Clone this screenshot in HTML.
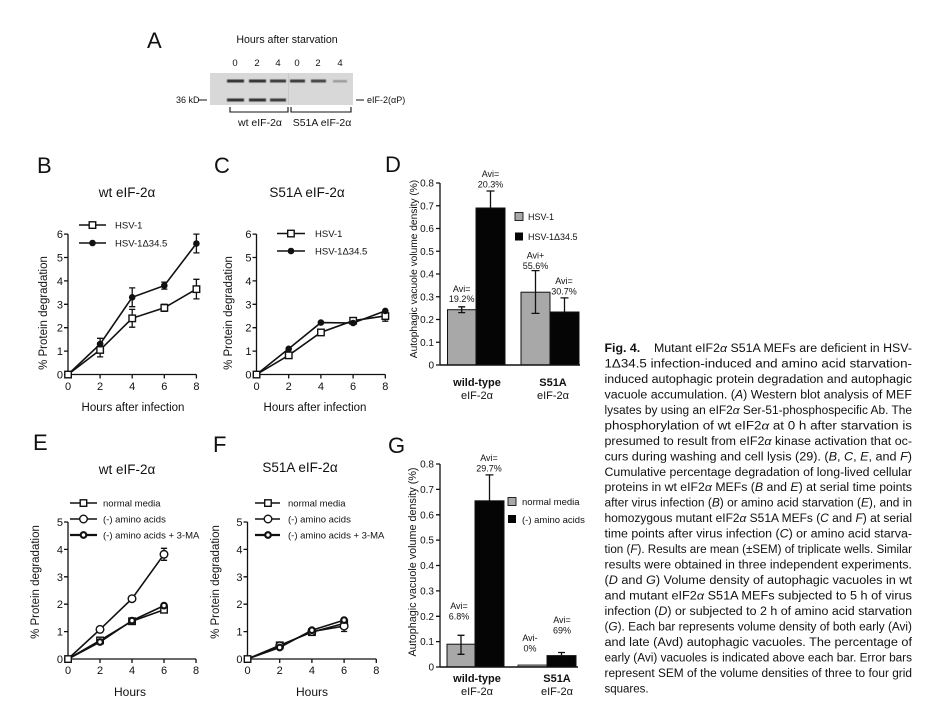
<!DOCTYPE html>
<html><head><meta charset="utf-8">
<style>
html,body{margin:0;padding:0;background:#fff;}
svg{display:block;}
text{font-family:"Liberation Sans",Arial,sans-serif;fill:#111;}
.ax{fill:none;stroke:#111;stroke-width:1.3;}
.ln{fill:none;stroke:#111;stroke-width:1.6;}
.eb{fill:none;stroke:#111;stroke-width:1.3;}
.sq{fill:#fff;stroke:#111;stroke-width:1.4;}
.fc{fill:#111;}
.oc{fill:#fff;stroke:#111;stroke-width:1.4;}
.mc{fill:#fff;stroke:#111;stroke-width:2.2;}
.tk{font-size:11px;}
.tkd{font-size:10px;}
.lg{font-size:9.5px;}
.an{font-size:9px;fill:#222;}
.ttl{font-size:13.5px;}
.let{font-size:22px;}
.cap{font-size:11.5px;fill:#1a1a1a;}
</style></head><body>
<svg width="934" height="721" viewBox="0 0 934 721" xmlns="http://www.w3.org/2000/svg">
<defs>
<filter id="bl" x="-20%" y="-100%" width="140%" height="300%"><feGaussianBlur stdDeviation="0.6"/></filter>
</defs>

<!-- ================= PANEL A ================= -->
<text class="let" x="147" y="48">A</text>
<text x="287" y="43" text-anchor="middle" style="font-size:10.6px">Hours after starvation</text>
<g style="font-size:9.5px" text-anchor="middle">
<text x="235" y="66">0</text><text x="257" y="66">2</text><text x="278" y="66">4</text>
<text x="297" y="66">0</text><text x="318" y="66">2</text><text x="340" y="66">4</text>
</g>
<rect x="210" y="73" width="143" height="32" fill="#d8d8d8"/>
<line x1="288.5" y1="73" x2="288.5" y2="105" stroke="#c4c4c4" stroke-width="0.8"/>
<g filter="url(#bl)">
<rect x="227" y="79.5" width="17" height="3" fill="#333"/>
<rect x="249" y="79.5" width="17" height="3" fill="#333"/>
<rect x="270" y="79.5" width="16" height="3" fill="#3a3a3a"/>
<rect x="290" y="79.5" width="15" height="3" fill="#3a3a3a"/>
<rect x="311" y="79.5" width="15" height="3" fill="#444"/>
<rect x="333" y="80" width="14" height="2.4" fill="#9a9a9a"/>
<rect x="227" y="98.5" width="17" height="3" fill="#333"/>
<rect x="249" y="98.5" width="17" height="3" fill="#333"/>
<rect x="270" y="98.5" width="16" height="3" fill="#3a3a3a"/>
</g>
<text x="176" y="103" style="font-size:9px">36 kD</text>
<line x1="198" y1="100" x2="207" y2="100" stroke="#111" stroke-width="1"/>
<line x1="356" y1="100" x2="364" y2="100" stroke="#111" stroke-width="1"/>
<text x="367" y="103" style="font-size:9px">eIF-2(αP)</text>
<path class="ax" style="stroke-width:1.1" d="M230 107V112H288V107M291 107V112H351V107"/>
<text x="260" y="126" text-anchor="middle" style="font-size:10.5px">wt eIF-2α</text>
<text x="322" y="126" text-anchor="middle" style="font-size:10.5px">S51A eIF-2α</text>

<!-- ================= PANEL B ================= -->
<text class="let" x="37" y="173">B</text>
<text class="ttl" x="127" y="197" text-anchor="middle">wt eIF-2α</text>
<path class="ax" d="M68 234.1V374.5H196.4"/>
<path class="ax" d="M64 374.5H68M64 351.1H68M64 327.7H68M64 304.3H68M64 280.9H68M64 257.5H68M64 234.1H68M68 374.5V378.5M100.1 374.5V378.5M132.2 374.5V378.5M164.3 374.5V378.5M196.4 374.5V378.5"/>
<g class="tk" text-anchor="end">
<text x="63" y="378.5">0</text><text x="63" y="355.1">1</text><text x="63" y="331.7">2</text><text x="63" y="308.3">3</text><text x="63" y="284.9">4</text><text x="63" y="261.5">5</text><text x="63" y="238.1">6</text>
</g>
<g class="tk" text-anchor="middle">
<text x="68" y="390">0</text><text x="100.1" y="390">2</text><text x="132.2" y="390">4</text><text x="164.3" y="390">6</text><text x="196.4" y="390">8</text>
</g>
<text x="133" y="411" text-anchor="middle" style="font-size:11.5px">Hours after infection</text>
<text transform="translate(47,313) rotate(-90)" text-anchor="middle" style="font-size:11.5px">% Protein degradation</text>
<polyline class="ln" points="68,374.5 100.1,349.9 132.2,318.3 164.3,307.8 196.4,289.1"/>
<polyline class="ln" points="68,374.5 100.1,344.1 132.2,297.3 164.3,285.6 196.4,243.5"/>
<path class="eb" d="M100.1 342.9V356.9M97 342.9H103.2M97 356.9H103.2M132.2 309.4V327.2M129.1 309.4H135.3M129.1 327.2H135.3M164.3 304.3V311.3M161.2 304.3H167.4M161.2 311.3H167.4M196.4 279.3V298.9M193.3 279.3H199.5M193.3 298.9H199.5"/>
<path class="eb" d="M100.1 338.3V349.9M97 338.3H103.2M132.2 287.9V306.7M129.1 287.9H135.3M129.1 306.7H135.3M164.3 282.1V289.1M161.2 282.1H167.4M161.2 289.1H167.4M196.4 234.1V252.9M193.3 234.1H199.5M193.3 252.9H199.5"/>
<g>
<rect class="sq" x="64.8" y="371.3" width="6.5" height="6.5"/>
<rect class="sq" x="96.9" y="346.7" width="6.5" height="6.5"/>
<rect class="sq" x="129" y="315.1" width="6.5" height="6.5"/>
<rect class="sq" x="161.1" y="304.6" width="6.5" height="6.5"/>
<rect class="sq" x="193.2" y="285.9" width="6.5" height="6.5"/>
<circle class="fc" cx="100.1" cy="344.1" r="3.3"/>
<circle class="fc" cx="132.2" cy="297.3" r="3.3"/>
<circle class="fc" cx="164.3" cy="285.6" r="3.3"/>
<circle class="fc" cx="196.4" cy="243.5" r="3.3"/>
</g>
<path class="ln" d="M79 225H106M79 243H106"/>
<rect class="sq" x="89.2" y="221.8" width="6.5" height="6.5"/>
<circle class="fc" cx="92.5" cy="243" r="3.3"/>
<text class="lg" x="115" y="228.5">HSV-1</text>
<text class="lg" x="115" y="246.5">HSV-1Δ34.5</text>

<!-- ================= PANEL C ================= -->
<text class="let" x="214" y="173">C</text>
<text class="ttl" x="307" y="197" text-anchor="middle">S51A eIF-2α</text>
<path class="ax" d="M256.5 234.1V374.5H385.3"/>
<path class="ax" d="M252.5 374.5H256.5M252.5 351.1H256.5M252.5 327.7H256.5M252.5 304.3H256.5M252.5 280.9H256.5M252.5 257.5H256.5M252.5 234.1H256.5M256.5 374.5V378.5M288.7 374.5V378.5M320.9 374.5V378.5M353.1 374.5V378.5M385.3 374.5V378.5"/>
<g class="tk" text-anchor="end">
<text x="251.5" y="378.5">0</text><text x="251.5" y="355.1">1</text><text x="251.5" y="331.7">2</text><text x="251.5" y="308.3">3</text><text x="251.5" y="284.9">4</text><text x="251.5" y="261.5">5</text><text x="251.5" y="238.1">6</text>
</g>
<g class="tk" text-anchor="middle">
<text x="256.5" y="390">0</text><text x="288.7" y="390">2</text><text x="320.9" y="390">4</text><text x="353.1" y="390">6</text><text x="385.3" y="390">8</text>
</g>
<text x="315" y="411" text-anchor="middle" style="font-size:11.5px">Hours after infection</text>
<text transform="translate(232,313) rotate(-90)" text-anchor="middle" style="font-size:11.5px">% Protein degradation</text>
<polyline class="ln" points="256.5,374.5 288.7,355.3 320.9,332.4 353.1,320.7 385.3,316"/>
<polyline class="ln" points="256.5,374.5 288.7,348.8 320.9,322.6 353.1,323 385.3,310.9"/>
<path class="eb" d="M385.3 311.3V321.2M382.2 321.2H388.4"/>
<rect class="sq" x="253.3" y="371.3" width="6.5" height="6.5"/>
<rect class="sq" x="285.5" y="352.1" width="6.5" height="6.5"/>
<rect class="sq" x="317.7" y="329.2" width="6.5" height="6.5"/>
<rect class="sq" x="349.9" y="317.5" width="6.5" height="6.5"/>
<rect class="sq" x="382.1" y="312.8" width="6.5" height="6.5"/>
<circle class="fc" cx="288.7" cy="348.8" r="3.3"/>
<circle class="fc" cx="320.9" cy="322.6" r="3.3"/>
<circle class="fc" cx="353.1" cy="323" r="3.3"/>
<circle class="fc" cx="385.3" cy="310.9" r="3.3"/>
<path class="ln" d="M277 233.5H305M277 251H305"/>
<rect class="sq" x="287.7" y="230.3" width="6.5" height="6.5"/>
<circle class="fc" cx="291" cy="251" r="3.3"/>
<text class="lg" x="315" y="237">HSV-1</text>
<text class="lg" x="315" y="254.5">HSV-1Δ34.5</text>

<!-- ================= PANEL D ================= -->
<text class="let" x="385" y="172">D</text>
<path class="ax" d="M440 183V365"/>
<path class="ax" d="M436 365H440M436 342.25H440M436 319.5H440M436 296.75H440M436 274H440M436 251.25H440M436 228.5H440M436 205.75H440M436 183H440"/>
<g class="tkd" text-anchor="end">
<text x="434" y="368.5">0</text><text x="434" y="345.75">0.1</text><text x="434" y="323">0.2</text><text x="434" y="300.25">0.3</text><text x="434" y="277.5">0.4</text><text x="434" y="254.75">0.5</text><text x="434" y="232">0.6</text><text x="434" y="209.25">0.7</text><text x="434" y="186.5">0.8</text>
</g>
<text transform="translate(417,269) rotate(-90)" text-anchor="middle" style="font-size:10.2px">Autophagic vacuole volume density (%)</text>
<rect x="447.5" y="309.7" width="28.5" height="55.3" fill="#a8a8a8" stroke="#111" stroke-width="1"/>
<rect x="476" y="208" width="29" height="157" fill="#050505" stroke="#111" stroke-width="1"/>
<rect x="521" y="292.2" width="29" height="72.8" fill="#a8a8a8" stroke="#111" stroke-width="1"/>
<rect x="550" y="312" width="29" height="53" fill="#050505" stroke="#111" stroke-width="1"/>
<path class="ax" style="stroke-width:1.6" d="M440 365H580"/>
<path class="eb" d="M461.7 306.8V312.6M458.2 306.8H465.2M458.2 312.6H465.2"/>
<path class="eb" d="M490.5 191V208M486.5 191H494.5"/>
<path class="eb" d="M535.5 270.6V313.4M531.5 270.6H539.5M531.5 313.4H539.5"/>
<path class="eb" d="M564.5 297.9V312M560.5 297.9H568.5"/>
<g class="an" text-anchor="middle">
<text x="490.5" y="177">Avi=</text><text x="490.5" y="187.5">20.3%</text>
<text x="461.7" y="292">Avi=</text><text x="461.7" y="302">19.2%</text>
<text x="535.5" y="258.5">Avi+</text><text x="535.5" y="269">55.6%</text>
<text x="564" y="284">Avi=</text><text x="564" y="294.5">30.7%</text>
</g>
<rect x="515" y="212.5" width="8" height="8" fill="#a8a8a8" stroke="#111" stroke-width="0.9"/>
<rect x="515" y="232.5" width="8" height="8" fill="#050505"/>
<text class="lg" x="528" y="220" style="font-size:9px">HSV-1</text>
<text class="lg" x="528" y="240" style="font-size:9px">HSV-1Δ34.5</text>
<text x="477" y="386" text-anchor="middle" style="font-size:11px;font-weight:bold">wild-type</text>
<text x="477" y="399" text-anchor="middle" style="font-size:11px">eIF-2α</text>
<text x="553" y="386" text-anchor="middle" style="font-size:11px;font-weight:bold">S51A</text>
<text x="553" y="399" text-anchor="middle" style="font-size:11px">eIF-2α</text>

<!-- ================= PANEL E ================= -->
<text class="let" x="33" y="450">E</text>
<text class="ttl" x="127" y="474" text-anchor="middle">wt eIF-2α</text>
<path class="ax" d="M68 522V659H196"/>
<path class="ax" d="M64 659H68M64 631.6H68M64 604.2H68M64 576.8H68M64 549.4H68M64 522H68M68 659V663M100 659V663M132 659V663M164 659V663M196 659V663"/>
<g class="tk" text-anchor="end">
<text x="63" y="663">0</text><text x="63" y="635.6">1</text><text x="63" y="608.2">2</text><text x="63" y="580.8">3</text><text x="63" y="553.4">4</text><text x="63" y="526">5</text>
</g>
<g class="tk" text-anchor="middle">
<text x="68" y="674">0</text><text x="100" y="674">2</text><text x="132" y="674">4</text><text x="164" y="674">6</text><text x="196" y="674">8</text>
</g>
<text x="130" y="696" text-anchor="middle" style="font-size:12px">Hours</text>
<text transform="translate(39,582) rotate(-90)" text-anchor="middle" style="font-size:11.5px">% Protein degradation</text>
<polyline class="ln" points="68,659 100,640.4 132,621.2 164,609.7"/>
<polyline class="ln" points="68,659 100,629.4 132,598.7 164,554.3"/>
<polyline class="ln" points="68,659 100,642 132,620.6 164,605.6"/>
<path class="eb" d="M164 548.3V560.3M160.9 548.3H167.1M160.9 560.3H167.1"/>
<rect class="sq" x="64.8" y="655.8" width="6.5" height="6.5"/>
<rect class="sq" x="96.8" y="637.2" width="6.5" height="6.5"/>
<rect class="sq" x="128.8" y="618" width="6.5" height="6.5"/>
<rect class="sq" x="160.8" y="606.5" width="6.5" height="6.5"/>
<circle class="oc" cx="100" cy="629.4" r="3.8"/>
<circle class="oc" cx="132" cy="598.7" r="3.8"/>
<circle class="oc" cx="164" cy="554.3" r="3.8"/>
<circle class="mc" cx="100" cy="642" r="2.8"/>
<circle class="mc" cx="132" cy="620.6" r="2.8"/>
<circle class="mc" cx="164" cy="605.6" r="2.8"/>
<path class="ln" d="M70 503H97M70 519H97"/>
<path class="ln" style="stroke-width:2.2" d="M70 535H97"/>
<rect class="sq" x="80.2" y="499.8" width="6.5" height="6.5"/>
<circle class="oc" cx="83.5" cy="519" r="3.8"/>
<circle class="mc" cx="83.5" cy="535" r="2.8"/>
<text class="lg" x="103" y="506.5">normal media</text>
<text class="lg" x="103" y="522.5">(-) amino acids</text>
<text class="lg" x="103" y="538.5">(-) amino acids + 3-MA</text>

<!-- ================= PANEL F ================= -->
<text class="let" x="213" y="452">F</text>
<text class="ttl" x="300" y="472" text-anchor="middle">S51A eIF-2α</text>
<path class="ax" d="M247.5 522V659H376.3"/>
<path class="ax" d="M243.5 659H247.5M243.5 631.6H247.5M243.5 604.2H247.5M243.5 576.8H247.5M243.5 549.4H247.5M243.5 522H247.5M247.5 659V663M279.7 659V663M311.9 659V663M344.1 659V663M376.3 659V663"/>
<g class="tk" text-anchor="end">
<text x="242.5" y="663">0</text><text x="242.5" y="635.6">1</text><text x="242.5" y="608.2">2</text><text x="242.5" y="580.8">3</text><text x="242.5" y="553.4">4</text><text x="242.5" y="526">5</text>
</g>
<g class="tk" text-anchor="middle">
<text x="247.5" y="674">0</text><text x="279.7" y="674">2</text><text x="311.9" y="674">4</text><text x="344.1" y="674">6</text><text x="376.3" y="674">8</text>
</g>
<text x="312" y="696" text-anchor="middle" style="font-size:12px">Hours</text>
<text transform="translate(219,582) rotate(-90)" text-anchor="middle" style="font-size:11.5px">% Protein degradation</text>
<polyline class="ln" points="247.5,659 279.7,645.3 311.9,632.1 344.1,623.4"/>
<polyline class="ln" points="247.5,659 279.7,645.8 311.9,631.6 344.1,626.1"/>
<polyline class="ln" points="247.5,659 279.7,647.5 311.9,630.2 344.1,620.1"/>
<path class="eb" d="M344.1 621.2V631.5M341 631.5H347.2"/>
<rect class="sq" x="244.3" y="655.8" width="6.5" height="6.5"/>
<rect class="sq" x="276.5" y="642.1" width="6.5" height="6.5"/>
<rect class="sq" x="308.7" y="628.9" width="6.5" height="6.5"/>
<rect class="sq" x="340.9" y="620.2" width="6.5" height="6.5"/>
<circle class="oc" cx="279.7" cy="645.8" r="3.8"/>
<circle class="oc" cx="311.9" cy="631.6" r="3.8"/>
<circle class="oc" cx="344.1" cy="626.1" r="3.8"/>
<circle class="mc" cx="279.7" cy="647.5" r="2.8"/>
<circle class="mc" cx="311.9" cy="630.2" r="2.8"/>
<circle class="mc" cx="344.1" cy="620.1" r="2.8"/>
<path class="ln" d="M255 503H280M255 519H280"/>
<path class="ln" style="stroke-width:2.2" d="M255 535H280"/>
<rect class="sq" x="264.7" y="499.8" width="6.5" height="6.5"/>
<circle class="oc" cx="268" cy="519" r="3.8"/>
<circle class="mc" cx="268" cy="535" r="2.8"/>
<text class="lg" x="288" y="506.5">normal media</text>
<text class="lg" x="288" y="522.5">(-) amino acids</text>
<text class="lg" x="288" y="538.5">(-) amino acids + 3-MA</text>

<!-- ================= PANEL G ================= -->
<text class="let" x="388" y="453">G</text>
<path class="ax" d="M440 464V667"/>
<path class="ax" d="M436 667H440M436 641.6H440M436 616.3H440M436 590.9H440M436 565.5H440M436 540.1H440M436 514.8H440M436 489.4H440M436 464H440"/>
<g class="tkd" text-anchor="end">
<text x="434" y="670.5">0</text><text x="434" y="645.1">0.1</text><text x="434" y="619.8">0.2</text><text x="434" y="594.4">0.3</text><text x="434" y="569">0.4</text><text x="434" y="543.6">0.5</text><text x="434" y="518.3">0.6</text><text x="434" y="492.9">0.7</text><text x="434" y="467.5">0.8</text>
</g>
<text transform="translate(416,562) rotate(-90)" text-anchor="middle" style="font-size:10.8px">Autophagic vacuole volume density (%)</text>
<rect x="447" y="644.2" width="28" height="22.8" fill="#a8a8a8" stroke="#111" stroke-width="1"/>
<rect x="475" y="500.8" width="29" height="166.2" fill="#050505" stroke="#111" stroke-width="1"/>
<rect x="518" y="665" width="29" height="2" fill="#a8a8a8" stroke="#111" stroke-width="0.8"/>
<rect x="547" y="655.6" width="29" height="11.4" fill="#050505" stroke="#111" stroke-width="1"/>
<path class="ax" style="stroke-width:1.6" d="M440 667H578"/>
<path class="eb" d="M461 635.3V654.3M457.5 635.3H464.5M457.5 654.3H464.5"/>
<path class="eb" d="M489.5 474.9V500.8M485.5 474.9H493.5"/>
<path class="eb" d="M561.5 652.5V655.6M558 652.5H565"/>
<g class="an" text-anchor="middle">
<text x="489" y="461">Avi=</text><text x="489" y="471.5">29.7%</text>
<text x="459" y="609">Avi=</text><text x="459" y="619.5">6.8%</text>
<text x="530" y="641">Avi-</text><text x="530" y="651.5">0%</text>
<text x="562" y="623">Avi=</text><text x="562" y="633.5">69%</text>
</g>
<rect x="508" y="497.5" width="8" height="8" fill="#a8a8a8" stroke="#111" stroke-width="0.9"/>
<rect x="508" y="515" width="8" height="8" fill="#050505"/>
<text class="lg" x="522" y="505">normal media</text>
<text class="lg" x="522" y="523">(-) amino acids</text>
<text x="477" y="682" text-anchor="middle" style="font-size:11px;font-weight:bold">wild-type</text>
<text x="477" y="695" text-anchor="middle" style="font-size:11px">eIF-2α</text>
<text x="557" y="682" text-anchor="middle" style="font-size:11px;font-weight:bold">S51A</text>
<text x="557" y="695" text-anchor="middle" style="font-size:11px">eIF-2α</text>

<!-- ================= CAPTION ================= -->
<g class="cap">
<text x="604.5" y="352" textLength="307.5" lengthAdjust="spacingAndGlyphs"><tspan font-weight="bold">Fig. 4.</tspan>&#160;&#160;&#160;&#160;Mutant eIF2<tspan font-style="italic">α</tspan> S51A MEFs are deficient in HSV-</text>
<text x="604.5" y="367.5" textLength="307.5" lengthAdjust="spacingAndGlyphs">1Δ34.5 infection-induced and amino acid starvation-</text>
<text x="604.5" y="382.9" textLength="307.5" lengthAdjust="spacingAndGlyphs">induced autophagic protein degradation and autophagic</text>
<text x="604.5" y="398.4" textLength="307.5" lengthAdjust="spacingAndGlyphs">vacuole accumulation. (<tspan font-style="italic">A</tspan>) Western blot analysis of MEF</text>
<text x="604.5" y="413.9" textLength="307.5" lengthAdjust="spacingAndGlyphs">lysates by using an eIF2<tspan font-style="italic">α</tspan> Ser-51-phosphospecific Ab. The</text>
<text x="604.5" y="429.4" textLength="307.5" lengthAdjust="spacingAndGlyphs">phosphorylation of wt eIF2<tspan font-style="italic">α</tspan> at 0 h after starvation is</text>
<text x="604.5" y="444.8" textLength="307.5" lengthAdjust="spacingAndGlyphs">presumed to result from eIF2<tspan font-style="italic">α</tspan> kinase activation that oc-</text>
<text x="604.5" y="460.3" textLength="307.5" lengthAdjust="spacingAndGlyphs">curs during washing and cell lysis (29). (<tspan font-style="italic">B</tspan>, <tspan font-style="italic">C</tspan>, <tspan font-style="italic">E</tspan>, and <tspan font-style="italic">F</tspan>)</text>
<text x="604.5" y="475.8" textLength="307.5" lengthAdjust="spacingAndGlyphs">Cumulative percentage degradation of long-lived cellular</text>
<text x="604.5" y="491.2" textLength="307.5" lengthAdjust="spacingAndGlyphs">proteins in wt eIF2<tspan font-style="italic">α</tspan> MEFs (<tspan font-style="italic">B</tspan> and <tspan font-style="italic">E</tspan>) at serial time points</text>
<text x="604.5" y="506.7" textLength="307.5" lengthAdjust="spacingAndGlyphs">after virus infection (<tspan font-style="italic">B</tspan>) or amino acid starvation (<tspan font-style="italic">E</tspan>), and in</text>
<text x="604.5" y="522.2" textLength="307.5" lengthAdjust="spacingAndGlyphs">homozygous mutant eIF2<tspan font-style="italic">α</tspan> S51A MEFs (<tspan font-style="italic">C</tspan> and <tspan font-style="italic">F</tspan>) at serial</text>
<text x="604.5" y="537.6" textLength="307.5" lengthAdjust="spacingAndGlyphs">time points after virus infection (<tspan font-style="italic">C</tspan>) or amino acid starva-</text>
<text x="604.5" y="553.1" textLength="307.5" lengthAdjust="spacingAndGlyphs">tion (<tspan font-style="italic">F</tspan>). Results are mean (±SEM) of triplicate wells. Similar</text>
<text x="604.5" y="568.6" textLength="307.5" lengthAdjust="spacingAndGlyphs">results were obtained in three independent experiments.</text>
<text x="604.5" y="584.1" textLength="307.5" lengthAdjust="spacingAndGlyphs">(<tspan font-style="italic">D</tspan> and <tspan font-style="italic">G</tspan>) Volume density of autophagic vacuoles in wt</text>
<text x="604.5" y="599.5" textLength="307.5" lengthAdjust="spacingAndGlyphs">and mutant eIF2<tspan font-style="italic">α</tspan> S51A MEFs subjected to 5 h of virus</text>
<text x="604.5" y="615" textLength="307.5" lengthAdjust="spacingAndGlyphs">infection (<tspan font-style="italic">D</tspan>) or subjected to 2 h of amino acid starvation</text>
<text x="604.5" y="630.5" textLength="307.5" lengthAdjust="spacingAndGlyphs">(<tspan font-style="italic">G</tspan>). Each bar represents volume density of both early (Avi)</text>
<text x="604.5" y="645.9" textLength="307.5" lengthAdjust="spacingAndGlyphs">and late (Avd) autophagic vacuoles. The percentage of</text>
<text x="604.5" y="661.4" textLength="307.5" lengthAdjust="spacingAndGlyphs">early (Avi) vacuoles is indicated above each bar. Error bars</text>
<text x="604.5" y="676.9" textLength="307.5" lengthAdjust="spacingAndGlyphs">represent SEM of the volume densities of three to four grid</text>
<text x="604.5" y="692.3">squares.</text>
</g>
</svg>
</body></html>
